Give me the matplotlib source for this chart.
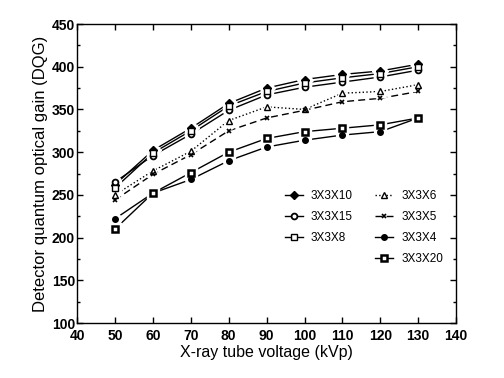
import matplotlib
matplotlib.use('Agg')
import matplotlib.pyplot as plt
from matplotlib.ticker import MultipleLocator
from matplotlib.lines import Line2D

plt.rcParams['font.family'] = ['Liberation Sans', 'DejaVu Sans']

# Dados
kvp = [50, 60, 70, 80, 90, 100, 110, 120, 130]
dqg_3x3x10 = [262, 302, 328, 357, 375, 385, 391, 395, 403]
dqg_3x3x15 = [265, 296, 321, 349, 367, 376, 382, 388, 396]
dqg_3x3x8 = [258, 299, 325, 354, 371, 381, 387, 392, 400]
dqg_3x3x6 = [250, 278, 301, 337, 353, 350, 369, 371, 379]
dqg_3x3x5 = [244, 274, 297, 325, 340, 349, 359, 363, 371]
dqg_3x3x4 = [222, 252, 268, 290, 306, 314, 320, 324, 340]
dqg_3x3x20 = [210, 252, 276, 300, 316, 324, 328, 332, 340]

# (rótulo, valores, estilo de linha, marcador, preenchimento, tamanho, espessura da borda)
series = [
    ('3X3X10', dqg_3x3x10, '-', 'D', 'black', 3.6, 1.0),
    ('3X3X15', dqg_3x3x15, '-', 'o', 'white', 4.2, 1.3),
    ('3X3X8', dqg_3x3x8, '-', 's', 'white', 4.0, 1.0),
    ('3X3X6', dqg_3x3x6, ':', '^', 'white', 4.5, 1.0),
    ('3X3X5', dqg_3x3x5, (0, (5, 3)), 'x', 'black', 3.5, 1.2),
    ('3X3X4', dqg_3x3x4, '-', 'o', 'black', 4.0, 1.0),
    ('3X3X20', dqg_3x3x20, '-', 's', 'white', 4.3, 1.8),
]

fig = plt.figure(figsize=(5.04, 3.78), dpi=100)
ax = fig.add_axes([0.153, 0.1455, 0.752, 0.791])

handles = {}
for rotulo, valores, ls, mk, fc, ms, mew in series:
    ax.plot(kvp, valores, linestyle=ls, color='black', linewidth=1.0, zorder=2)
    # halo branco para criar o espaço entre linha e marcador
    ax.plot(kvp, valores, linestyle='none', marker=mk, markersize=ms + 4.5,
            markerfacecolor='white', markeredgecolor='white', zorder=3)
for rotulo, valores, ls, mk, fc, ms, mew in series:
    ax.plot(kvp, valores, linestyle='none', marker=mk, markersize=ms,
            markerfacecolor=fc, markeredgecolor='black', markeredgewidth=mew, zorder=4)
    handles[rotulo] = Line2D([], [], linestyle=ls, color='black', linewidth=1.0,
                             marker=mk, markersize=ms, markerfacecolor=fc,
                             markeredgecolor='black', markeredgewidth=mew)

vazio = Line2D([], [], linestyle='none')
ordem = ['3X3X10', '3X3X15', '3X3X8', None, '3X3X6', '3X3X5', '3X3X4', '3X3X20']
leg_handles = [handles[r] if r else vazio for r in ordem]
leg_labels = [r if r else '' for r in ordem]
ax.legend(leg_handles, leg_labels, ncol=2, frameon=False, fontsize=8.5,
          handlelength=1.5, handletextpad=0.7, columnspacing=1.9,
          labelspacing=0.75, loc='upper left', bbox_to_anchor=(0.52, 0.48))

ax.set_xlim(40, 140)
ax.set_ylim(100, 450)
ax.xaxis.set_major_locator(MultipleLocator(10))
ax.yaxis.set_major_locator(MultipleLocator(50))
ax.yaxis.set_minor_locator(MultipleLocator(25))
ax.tick_params(which='both', direction='in', top=True, right=True, width=1.0)
ax.tick_params(which='major', length=4, labelsize=10)
ax.tick_params(axis='x', which='major', pad=4)
ax.tick_params(axis='y', which='major', pad=1.5)
ax.tick_params(which='minor', length=2.5)
for lbl in ax.get_xticklabels() + ax.get_yticklabels():
    lbl.set_fontweight('bold')
for sp in ax.spines.values():
    sp.set_linewidth(1.0)

ax.set_xlabel('X-ray tube voltage (kVp)', fontsize=11.5, labelpad=2)
ax.set_ylabel('Detector quantum optical gain (DQG)', fontsize=12, labelpad=3)

fig.savefig('out.png', dpi=100)
